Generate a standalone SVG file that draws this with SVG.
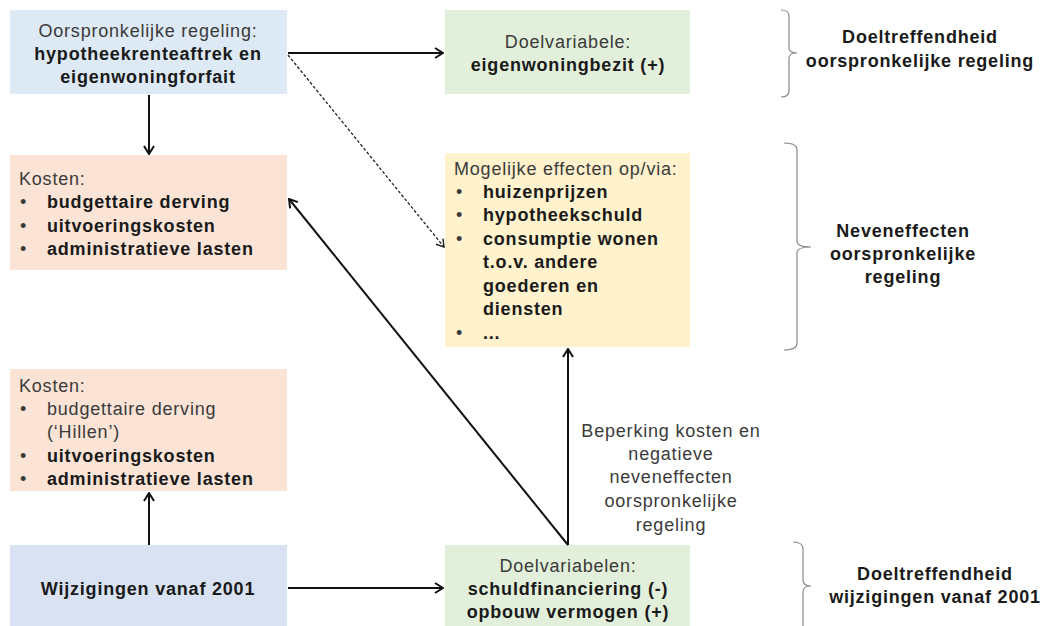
<svg xmlns="http://www.w3.org/2000/svg" width="1042" height="626" viewBox="0 0 1042 626">
<style>
text{font-family:"Liberation Sans",Arial,sans-serif;font-size:18px;letter-spacing:0.8px;fill:#3a3a3a}
.b{font-weight:bold;fill:#1a1a1a}
.c{text-anchor:middle}
.con{stroke:#111;stroke-width:2;fill:none}
.dash{stroke:#222;stroke-width:1.3;fill:none;stroke-dasharray:3 2}
.br{stroke:#8a8a8a;stroke-width:1.2;fill:none}
</style>
<defs>
<marker id="ah" viewBox="0 0 10 12" refX="9" refY="6" markerWidth="10" markerHeight="12" orient="auto" markerUnits="userSpaceOnUse">
<path d="M1,1 L9,6 L1,11" fill="none" stroke="#111" stroke-width="2"/>
</marker>
<marker id="ah2" viewBox="0 0 10 12" refX="9" refY="6" markerWidth="9" markerHeight="11" orient="auto" markerUnits="userSpaceOnUse">
<path d="M1,1 L9,6 L1,11" fill="none" stroke="#222" stroke-width="1.6"/>
</marker>
</defs>
<rect width="1042" height="626" fill="#fff"/>

<g id="orig">
<rect x="10" y="10" width="277" height="84" fill="#dde9f5"/>
<text class="c" x="148" y="37">Oorspronkelijke regeling:</text>
<text class="c b" x="148" y="60">hypotheekrenteaftrek en</text>
<text class="c b" x="148" y="83">eigenwoningforfait</text>
</g>

<g id="kosten1">
<rect x="10" y="155" width="277" height="115" fill="#fbe4d6"/>
<text x="19" y="185">Kosten:</text>
<text x="20" y="208">•</text><text class="b" x="47" y="208">budgettaire derving</text>
<text x="20" y="232">•</text><text class="b" x="47" y="232">uitvoeringskosten</text>
<text x="20" y="255">•</text><text class="b" x="47" y="255">administratieve lasten</text>
</g>

<g id="doel1">
<rect x="445" y="10" width="245" height="84" fill="#e2efda"/>
<text class="c" x="568" y="48">Doelvariabele:</text>
<text class="c b" x="568" y="71">eigenwoningbezit (+)</text>
</g>

<g id="effecten">
<rect x="445" y="153" width="245" height="194" fill="#fff2cc"/>
<text x="454" y="175">Mogelijke effecten op/via:</text>
<text x="456" y="198">•</text><text class="b" x="483" y="198">huizenprijzen</text>
<text x="456" y="221">•</text><text class="b" x="483" y="221">hypotheekschuld</text>
<text x="456" y="245">•</text><text class="b" x="483" y="245">consumptie wonen</text>
<text class="b" x="483" y="268">t.o.v. andere</text>
<text class="b" x="483" y="292">goederen en</text>
<text class="b" x="483" y="315">diensten</text>
<text x="456" y="339">•</text><text class="b" x="483" y="339">...</text>
</g>

<g id="kosten2">
<rect x="10" y="369" width="277" height="122" fill="#fbe4d6"/>
<text x="19" y="392">Kosten:</text>
<text x="20" y="415">•</text><text x="47" y="415">budgettaire derving</text>
<text x="47" y="438">(‘Hillen’)</text>
<text x="20" y="462">•</text><text class="b" x="47" y="462">uitvoeringskosten</text>
<text x="20" y="485">•</text><text class="b" x="47" y="485">administratieve lasten</text>
</g>

<g id="wijz">
<rect x="10" y="545" width="277" height="81" fill="#d9e2f3"/>
<text class="c b" x="148" y="595">Wijzigingen vanaf 2001</text>
</g>

<g id="doel2">
<rect x="445" y="545" width="245" height="81" fill="#e2efda"/>
<text class="c" x="568" y="572">Doelvariabelen:</text>
<text class="c b" x="568" y="595">schuldfinanciering (-)</text>
<text class="c b" x="568" y="618">opbouw vermogen (+)</text>
</g>

<g id="label">
<text class="c" x="671" y="437">Beperking kosten en</text>
<text class="c" x="671" y="460">negatieve</text>
<text class="c" x="671" y="483">neveneffecten</text>
<text class="c" x="671" y="507">oorspronkelijke</text>
<text class="c" x="671" y="531">regeling</text>
</g>

<g id="brackets">
<path class="br" d="M781,10 Q789,10 789,16 L789,48 Q789,53 797,53 Q789,53 789,58 L789,91 Q789,97 781,97"/>
<path class="br" d="M784,143 Q797,143 797,150 L797,241 Q797,247 811,247 Q797,247 797,253 L797,343 Q797,350 784,350"/>
<path class="br" d="M793,542 Q803,542 803,549 L803,580 Q803,586 811,586 Q803,586 803,592 L803,630"/>
</g>
<g id="rtext">
<text class="c b" x="920" y="43">Doeltreffendheid</text>
<text class="c b" x="920" y="67">oorspronkelijke regeling</text>
<text class="c b" x="903" y="237">Neveneffecten</text>
<text class="c b" x="903" y="260">oorspronkelijke</text>
<text class="c b" x="903" y="283">regeling</text>
<text class="c b" x="935" y="580">Doeltreffendheid</text>
<text class="c b" x="935" y="603">wijzigingen vanaf 2001</text>
</g>

<g id="connectors">
<line class="con" x1="288" y1="53" x2="443" y2="53" marker-end="url(#ah)"/>
<line class="con" x1="149" y1="95" x2="149" y2="154" marker-end="url(#ah)"/>
<line class="dash" x1="288" y1="55" x2="444" y2="247" marker-end="url(#ah2)"/>
<line class="con" x1="149" y1="545" x2="149" y2="493" marker-end="url(#ah)"/>
<line class="con" x1="288" y1="588" x2="443" y2="588" marker-end="url(#ah)"/>
<line class="con" x1="568" y1="545" x2="568" y2="349" marker-end="url(#ah)"/>
<line class="con" x1="568" y1="545" x2="289" y2="199" marker-end="url(#ah)"/>
</g>
</svg>
